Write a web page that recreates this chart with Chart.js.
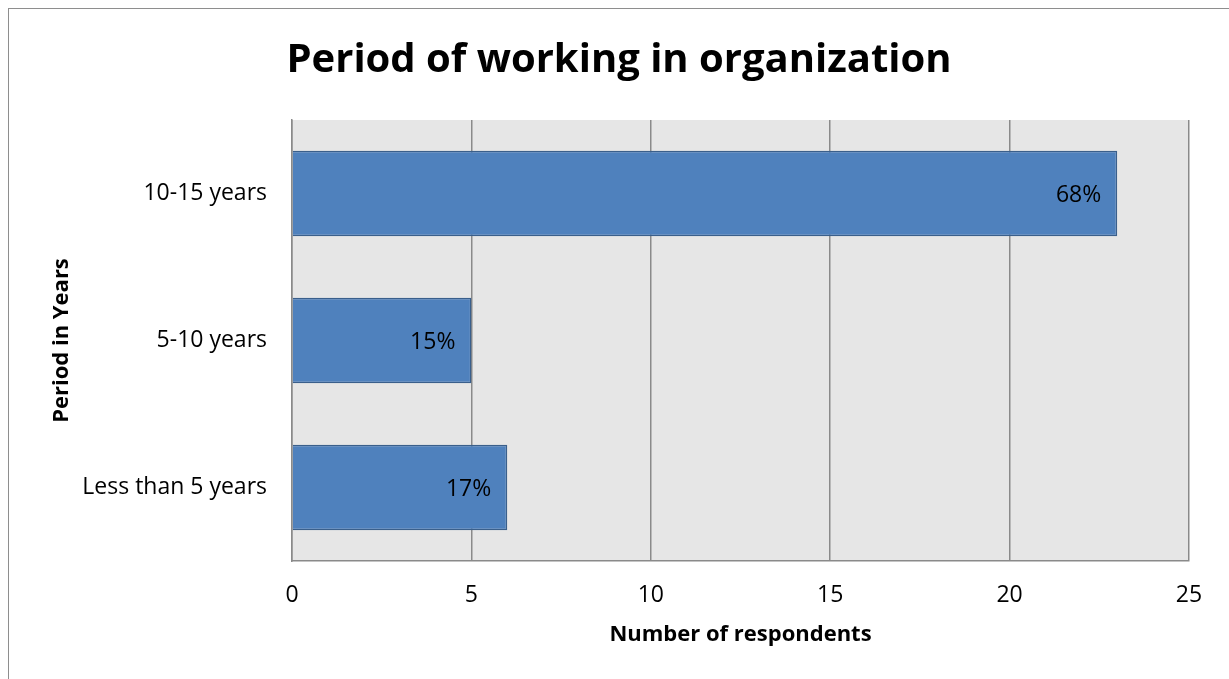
<!DOCTYPE html>
<html>
<head>
<meta charset="utf-8">
<title>Period of working in organization</title>
<script src="https://cdn.jsdelivr.net/npm/chart.js@4"></script>
<style>
  html, body { margin: 0; padding: 0; background: #fff; overflow: hidden; }
  #wrap { position: relative; width: 1229px; height: 679px; }
  #frame {
    position: absolute; left: 8px; top: 8px; width: 1300px; height: 800px;
    border: 1.5px solid #8e8e8e; box-sizing: border-box;
  }
  canvas { position: absolute; left: 0; top: 0; }
</style>
</head>
<body>
<div id="wrap">
  <div id="frame"></div>
  <canvas id="chart" width="1229" height="679"></canvas>
</div>
<script>
const chartTitle  = "Period of working in organization";
const periods     = ["10-15 years", "5-10 years", "Less than 5 years"];
const respondents = [23, 5, 6];
const shareLabels = ["68%", "15%", "17%"];
const xTicks      = [0, 5, 10, 15, 20, 25];

const FONT = "'Open Sans', 'Noto Sans', sans-serif";

// grey plot background behind the bars
const plotBackground = {
  id: "plotBackground",
  beforeDraw(chart) {
    const { ctx, chartArea: a } = chart;
    ctx.save();
    ctx.fillStyle = "#e6e6e6";
    ctx.fillRect(a.left, a.top, a.right - a.left, a.bottom - a.top);
    ctx.restore();
  },
};

// title centred on the whole frame, not just the plot
const frameTitle = {
  id: "frameTitle",
  afterDraw(chart) {
    const { ctx } = chart;
    ctx.save();
    ctx.font = "bold 40px " + FONT;
    ctx.fillStyle = "#000";
    ctx.textAlign = "center";
    ctx.textBaseline = "middle";
    ctx.fillText(chartTitle, 619, 61);
    ctx.restore();
  },
};

// percentage text just inside the end of each bar
const barLabels = {
  id: "barLabels",
  afterDatasetsDraw(chart) {
    const { ctx } = chart;
    const meta = chart.getDatasetMeta(0);
    ctx.save();
    ctx.font = "23px " + FONT;
    ctx.fillStyle = "#000";
    ctx.textAlign = "right";
    ctx.textBaseline = "middle";
    meta.data.forEach((bar, i) => {
      ctx.fillText(shareLabels[i], bar.x - 16, bar.y + 2);
    });
    ctx.restore();
  },
};

new Chart(document.getElementById("chart"), {
  type: "bar",
  data: {
    labels: periods,
    datasets: [{
      data: respondents,
      backgroundColor: "#4f81bd",
      borderColor: "#3a5f8b",
      borderWidth: 1.5,
      categoryPercentage: 1,
      barPercentage: 0.58,
    }],
  },
  options: {
    indexAxis: "y",
    responsive: false,
    animation: false,
    layout: { padding: { left: 8, right: 40, top: 120, bottom: 0 } },
    plugins: {
      legend: { display: false },
      tooltip: { enabled: false },
      title: { display: false },
    },
    scales: {
      x: {
        min: 0,
        max: 25,
        afterBuildTicks: (scale) => { scale.ticks = xTicks.map((v) => ({ value: v })); },
        afterFit: (scale) => { scale.height = 118; },
        grid: { color: "#8a8a8a", lineWidth: 1.5, drawTicks: false },
        border: { color: "#8a8a8a", width: 1.5 },
        ticks: { color: "#000", padding: 21, font: { family: FONT, size: 23 } },
        title: {
          display: true,
          text: "Number of respondents",
          color: "#000",
          font: { family: FONT, size: 22, weight: "bold", lineHeight: 1.2 },
          padding: { top: 0, bottom: 31 },
        },
      },
      y: {
        afterFit: (scale) => { scale.width = 284; },
        grid: { display: false, drawTicks: false },
        border: { display: true, color: "#8a8a8a", width: 1.5 },
        ticks: { color: "#000", padding: 25, font: { family: FONT, size: 23 } },
        title: {
          display: true,
          text: "Period in Years",
          color: "#000",
          font: { family: FONT, size: 22, weight: "bold", lineHeight: 1.2 },
          padding: { top: 41, bottom: 0 },
        },
      },
    },
  },
  plugins: [plotBackground, barLabels, frameTitle],
});
</script>
</body>
</html>
